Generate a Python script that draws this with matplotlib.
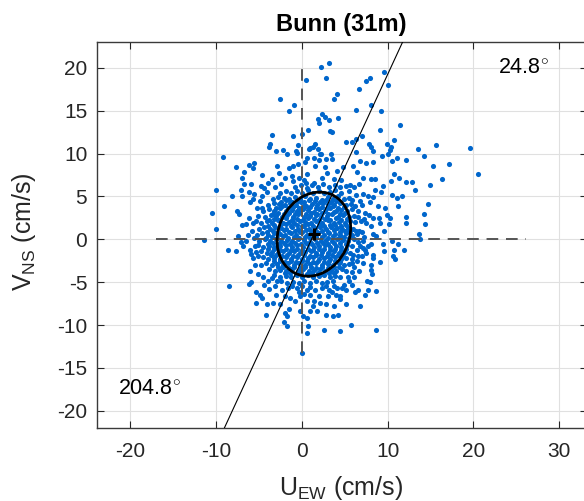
import numpy as np
import matplotlib
matplotlib.use("Agg")
import matplotlib.pyplot as plt
from matplotlib.patches import Ellipse

plt.rcParams['font.family'] = ['Liberation Sans', 'DejaVu Sans']
plt.rcParams['mathtext.fontset'] = 'custom'
plt.rcParams['mathtext.rm'] = 'Liberation Sans'
plt.rcParams['mathtext.it'] = 'Liberation Sans:italic'
plt.rcParams['axes.unicode_minus'] = False

TITLE = 'Bunn (31m)'
XLABEL = r'U$_{\mathrm{EW}}$ (cm/s)'
YLABEL = r'V$_{\mathrm{NS}}$ (cm/s)'

# velocity samples (u east-west, v north-south), cm/s
pts_upper = [
    (3.18, 20.5), (2.24, 20.1), (2.82, 18.8), (0.47, 18.6), (4.04, 16.9), (3.69, 16.4),
    (-2.59, 16.3), (-0.94, 15.7), (-1.45, 14.9), (2.39, 14.6), (2.71, 14.3), (1.88, 14.0),
    (3.18, 13.9), (4.27, 14.1), (2.04, 13.5), (0.67, 12.7), (3.25, 12.6), (3.53, 12.5),
    (-0.04, 12.3), (-0.98, 12.0), (-3.49, 12.1), (-3.69, 11.1), (-3.84, 10.8),
    (-0.51, 11.0), (-2.16, 10.4), (-2.98, 10.3), (-1.69, 9.9), (-0.67, 10.3), (-0.59, 10.1),
    (0.98, 10.7), (1.29, 10.8), (1.57, 11.1), (1.84, 10.5), (2.08, 10.0), (2.24, 9.9),
    (3.41, 10.0), (2.86, 9.4), (-9.22, 9.6), (0.59, 9.5), (1.45, 9.5), (0.82, 10.5),
    (9.53, 19.5), (10.0, 18.0), (7.94, 18.8), (7.47, 18.5), (6.65, 17.5), (8.02, 15.6),
    (6.26, 15.1), (9.26, 14.9), (11.48, 13.3), (9.1, 12.7), (6.96, 12.0), (6.26, 11.7),
    (5.14, 11.4), (5.8, 11.3), (10.7, 11.6), (7.82, 11.1), (8.02, 10.8), (9.92, 11.1),
    (10.35, 10.8), (10.31, 10.4), (8.25, 10.3), (6.26, 10.2), (13.6, 10.5), (15.7, 11.0),
    (19.57, 10.6), (10.0, 9.9), (9.3, 9.7), (11.1, 9.5), (14.2, 9.7), (12.2, 9.3),
]

pts_mid = [
    (-7.73, 8.4), (-6.7, 7.9), (-6.16, 8.7), (-5.6, 8.9), (-5.7, 8.3), (-4.7, 7.5),
    (-6.98, 7.1), (-6.8, 6.5), (-5.9, 6.5), (-4.8, 6.25), (-2.9, 8.5), (-2.67, 7.7),
    (-1.5, 8.3), (-0.98, 8.6), (-0.4, 8.8), (-10.0, 5.7), (-8.15, 5.0), (-7.06, 5.7),
    (-6.94, 5.1), (-6.2, 5.5), (-5.57, 5.3), (-5.69, 4.65), (-6.08, 4.3), (-9.14, 3.9),
    (-7.57, 3.3), (-7.37, 2.9), (-10.5, 3.1), (-10.04, 1.2), (-7.0, 1.7), (-6.5, 1.75),
    (-5.7, 1.95), (-7.5, 0.4), (-7.06, -0.27), (-6.86, -0.78), (-11.4, -0.08), (-8.6, -1.2),
    (-7.65, -1.4), (-6.1, -1.2), (-4.1, 5.5), (-4.6, 3.7), (-5.1, 2.7),
    (-3.5, 7.0), (-2.0, 7.1), (-1.2, 7.4), (-0.3, 7.2), (-3.9, 6.6), (-2.4, 6.5),
    (-1.0, 6.8), (0.2, 6.9), (-4.4, 6.0), (-3.1, 6.1),
    (0.4, 9.0), (0.6, 7.6), (1.57, 8.5), (1.96, 9.2), (2.75, 8.4), (2.94, 7.7), (3.5, 9.4),
    (4.1, 8.0), (4.8, 8.4), (0.5, 6.6), (1.37, 6.6), (3.7, 7.0), (2.3, 7.1), (4.6, 6.9),
    (10.5, 9.1), (15.3, 8.5), (17.2, 8.8), (20.5, 7.6), (16.3, 7.0), (12.1, 6.7), (12.8, 6.7),
    (13.2, 5.8), (14.9, 6.3), (11.3, 7.2), (10.7, 7.6), (10.35, 6.75), (10.5, 5.15),
    (11.05, 4.8), (11.7, 5.0), (11.25, 3.9), (14.7, 4.06), (14.3, 3.0), (12.1, 2.65),
    (12.1, 1.95), (14.4, 1.8), (10.3, 2.5), (10.2, 1.75), (9.6, 1.0), (13.7, 0.6),
    (13.8, 0.0), (10.5, -0.2), (11.25, -0.6), (10.8, -1.2), (11.9, -1.2), (9.6, -1.4),
    (10.66, -2.0), (8.3, 9.0), (7.5, 8.9), (6.8, 9.1), (6.0, 8.5), (6.4, 7.8), (7.1, 7.2),
    (8.1, 7.0), (8.5, 7.0), (9.5, 6.2), (8.55, 5.8), (9.2, 5.55), (8.3, 4.9), (7.7, 5.1),
    (7.1, 5.3), (6.1, 6.05), (5.6, 6.3), (5.1, 6.2), (6.7, 6.4), (8.9, 3.9), (9.7, 3.6),
    (9.9, 2.8), (9.0, 2.5), (9.1, 1.95), (8.3, 2.5), (8.1, 1.6), (7.5, 1.95), (8.3, 0.6),
    (8.6, 0.4), (8.1, -0.6), (7.7, -0.8), (7.35, -1.2), (8.3, -1.8), (7.5, -1.6),
    (6.8, -0.8), (9.5, -0.6), (6.0, -1.8), (6.8, 4.5), (6.2, 3.9), (6.6, 3.3), (7.4, 3.1),
    (6.9, 2.15), (6.7, 1.0), (7.0, 4.0), (7.9, 4.4), (7.3, 0.3), (7.1, -0.2), (7.8, 2.8),
    (5.5, 5.6), (6.3, 5.2), (5.8, 4.6), (6.5, 2.6), (7.2, 2.4), (6.3, 1.0), (7.0, 0.9),
    (6.5, -0.3), (6.4, -1.3), (7.1, -1.0), (-5.6, 0.2), (-5.8, 1.0), (-5.5, -0.8),
    (-5.4, -1.5), (-5.2, 3.6), (-4.9, 4.5), (-5.3, 2.1), (-4.6, 5.1), (-6.2, 2.5),
    (-6.3, 0.5), (-6.5, -0.2), (-5.9, -1.7),
]

pts_lower = [
    (-6.08, -3.7), (-6.2, -5.25), (-5.95, -4.95), (-8.55, -5.5), (-5.37, -6.15), (-4.9, -6.5),
    (-4.7, -6.85), (-5.4, -7.4), (-4.1, -7.6), (-3.4, -7.4), (-2.55, -7.5), (-3.0, -6.5),
    (-2.35, -5.9), (-4.2, -8.85), (-1.45, -8.1), (-1.96, -8.6), (-1.76, -9.0), (-2.08, -9.65),
    (-1.69, -10.15), (-0.2, -8.4), (0.08, -9.0), (0.6, -9.15), (0.7, -10.1), (0.63, -10.9),
    (0.04, -13.3), (1.0, -8.4), (1.3, -7.8), (1.76, -8.4), (2.78, -8.85), (2.62, -10.55),
    (3.65, -9.0), (4.2, -8.8), (4.43, -10.7), (3.7, -7.8), (2.86, -7.6), (2.16, -7.4),
    (1.37, -7.2), (0.6, -7.2), (-0.8, -7.2), (-1.37, -6.85), (-1.96, -6.65), (-0.2, -6.65),
    (1.0, -6.5), (2.0, -6.65), (3.0, -6.65), (4.0, -6.5), (4.5, -7.0), (4.7, -5.7),
    (4.04, -5.7), (3.14, -5.9), (2.35, -5.7), (1.57, -5.9), (0.6, -5.9), (-0.6, -5.7),
    (-1.57, -5.7), (-3.1, -5.5), (-3.9, -4.9), (-4.5, -4.35), (-5.1, -4.0), (-5.5, -3.0),
    (-3.5, -4.5), (-5.7, -2.2), (-5.1, -2.0),
    (10.9, -2.35), (9.1, -2.6), (8.3, -2.15), (8.1, -3.0), (8.05, -3.6), (8.2, -4.0),
    (7.1, -2.8), (6.7, -3.65), (6.1, -3.2), (5.8, -3.8), (5.4, -4.35), (7.6, -4.85),
    (7.9, -5.0), (8.6, -6.0), (7.74, -5.9), (7.4, -6.5), (6.6, -5.95), (6.2, -6.1),
    (5.9, -5.3), (5.2, -5.9), (5.2, -7.5), (6.77, -7.8), (4.44, -6.65), (5.7, -10.0),
    (8.6, -10.6), (6.4, -2.5), (7.0, -1.9),
    (5.9, -2.8), (6.6, -2.0), (5.5, -4.9), (4.9, -5.3), (6.1, -4.4), (-4.8, -3.0),
    (-4.4, -5.3), (-3.8, -5.8), (-2.9, -4.9), (-1.1, -5.5), (0.0, -5.5), (1.0, -5.6),
    (2.8, -5.4), (3.7, -5.4), (-0.3, -6.1), (0.3, -6.4), (3.5, -6.2),
]

pts_core = [
    (-0.8, 6.1), (-0.1, 6.35), (0.6, 6.0), (1.2, 6.3), (1.9, 6.15), (2.5, 6.4), (3.2, 6.05),
    (3.9, 6.3), (4.4, 6.1),
    (-2.6, 5.4), (-1.9, 5.6), (-1.3, 5.35), (-0.6, 5.65), (0.0, 5.45), (0.7, 5.7), (1.3, 5.4),
    (2.0, 5.6), (2.6, 5.35), (3.3, 5.55), (3.9, 5.7), (4.6, 5.4),
    (-3.4, 4.7), (-2.8, 4.95), (-2.1, 4.8), (-1.5, 4.65), (-0.8, 4.9), (-0.2, 4.75), (0.4, 5.0),
    (1.0, 4.7), (1.7, 4.85), (2.3, 4.6), (3.0, 4.9), (3.6, 4.75), (4.2, 5.0), (4.9, 4.7),
    (5.5, 4.85),
    (-4.0, 4.0), (-3.3, 4.25), (-2.7, 4.1), (-2.0, 3.95), (-1.4, 4.2), (-0.7, 4.05), (-0.1, 4.3),
    (0.5, 3.9), (1.2, 4.15), (1.8, 4.0), (2.5, 4.25), (3.1, 4.1), (3.8, 3.95), (4.4, 4.2),
    (5.1, 4.05), (5.7, 4.15),
    (-4.5, 3.3), (-3.8, 3.5), (-3.2, 3.35), (-2.5, 3.6), (-1.9, 3.25), (-1.2, 3.45), (-0.6, 3.3),
    (0.1, 3.55), (0.7, 3.4), (1.4, 3.2), (2.0, 3.5), (2.7, 3.35), (3.3, 3.6), (4.0, 3.3),
    (4.6, 3.45), (5.3, 3.25), (5.9, 3.5),
    (-4.3, 2.6), (-3.6, 2.85), (-3.0, 2.7), (-2.3, 2.55), (-1.7, 2.8), (-1.0, 2.65), (-0.4, 2.9),
    (0.3, 2.6), (0.9, 2.75), (1.6, 2.85), (2.2, 2.55), (2.9, 2.7), (3.5, 2.9), (4.2, 2.6),
    (4.8, 2.8), (5.5, 2.65), (6.1, 2.75),
    (-4.8, 1.9), (-4.1, 2.1), (-3.5, 1.95), (-2.8, 2.2), (-2.2, 1.85), (-1.5, 2.05), (-0.9, 1.9),
    (-0.2, 2.15), (0.4, 2.0), (1.1, 1.85), (1.7, 2.1), (2.4, 1.95), (3.0, 2.2), (3.7, 1.9),
    (4.3, 2.05), (5.0, 1.85), (5.6, 2.1), (6.2, 2.0),
    (-5.0, 1.2), (-4.4, 1.4), (-3.7, 1.25), (-3.1, 1.45), (-2.4, 1.3), (-1.8, 1.15), (-1.1, 1.4),
    (-0.5, 1.25), (0.2, 1.5), (0.8, 1.2), (1.5, 1.35), (2.1, 1.45), (2.8, 1.2), (3.4, 1.4),
    (4.1, 1.3), (4.7, 1.15), (5.4, 1.35), (6.0, 1.25),
    (-5.2, 0.5), (-4.6, 0.7), (-3.9, 0.55), (-3.3, 0.75), (-2.6, 0.6), (-2.0, 0.45), (-1.3, 0.7),
    (-0.7, 0.55), (0.0, 0.8), (0.6, 0.5), (1.3, 0.65), (1.9, 0.75), (2.6, 0.5), (3.2, 0.7),
    (3.9, 0.6), (4.5, 0.45), (5.2, 0.7), (5.8, 0.55), (6.4, 0.65),
    (-5.0, -0.2), (-4.3, 0.0), (-3.7, -0.15), (-3.0, 0.05), (-2.4, -0.25), (-1.7, -0.05),
    (-1.1, -0.2), (-0.4, 0.0), (0.2, -0.1), (0.9, -0.3), (1.5, 0.05), (2.2, -0.15), (2.8, -0.05),
    (3.5, -0.25), (4.1, 0.0), (4.8, -0.1), (5.4, -0.2), (6.1, 0.05),
    (-5.1, -0.7), (-4.5, -0.9), (-3.8, -0.75), (-3.2, -0.95), (-2.5, -0.8), (-1.9, -0.65),
    (-1.2, -0.9), (-0.6, -0.7), (0.1, -0.85), (0.7, -0.6), (1.4, -0.95), (2.0, -0.8),
    (2.7, -0.7), (3.3, -0.9), (4.0, -0.75), (4.6, -0.85), (5.3, -0.65), (5.9, -0.8),
    (-4.8, -1.4), (-4.1, -1.6), (-3.5, -1.45), (-2.8, -1.65), (-2.2, -1.35), (-1.5, -1.55),
    (-0.9, -1.4), (-0.2, -1.6), (0.4, -1.5), (1.1, -1.35), (1.7, -1.65), (2.4, -1.45),
    (3.0, -1.6), (3.7, -1.4), (4.3, -1.55), (5.0, -1.45), (5.6, -1.6),
    (-4.5, -2.1), (-3.9, -2.3), (-3.2, -2.15), (-2.6, -2.35), (-1.9, -2.05), (-1.3, -2.25),
    (-0.6, -2.1), (0.0, -2.3), (0.7, -2.2), (1.3, -2.05), (2.0, -2.35), (2.6, -2.15),
    (3.3, -2.3), (3.9, -2.1), (4.6, -2.25), (5.2, -2.15), (5.8, -2.3),
    (-4.2, -2.8), (-3.5, -3.0), (-2.9, -2.85), (-2.2, -3.05), (-1.6, -2.75), (-0.9, -2.95),
    (-0.3, -2.8), (0.4, -3.0), (1.0, -2.9), (1.7, -2.75), (2.3, -3.05), (3.0, -2.85),
    (3.6, -3.0), (4.3, -2.8), (4.9, -2.95), (5.5, -2.85),
    (-3.8, -3.5), (-3.1, -3.7), (-2.5, -3.55), (-1.8, -3.75), (-1.2, -3.45), (-0.5, -3.65),
    (0.1, -3.5), (0.8, -3.7), (1.4, -3.6), (2.1, -3.45), (2.7, -3.75), (3.4, -3.55),
    (4.0, -3.7), (4.7, -3.5), (5.1, -3.65),
    (-3.2, -4.2), (-2.6, -4.4), (-1.9, -4.25), (-1.3, -4.45), (-0.6, -4.15), (0.0, -4.35),
    (0.7, -4.2), (1.3, -4.4), (2.0, -4.3), (2.6, -4.15), (3.3, -4.45), (3.9, -4.25), (4.5, -4.35),
    (-2.4, -4.9), (-1.7, -5.1), (-1.0, -4.95), (-0.3, -5.15), (0.3, -4.85), (1.0, -5.05),
    (1.6, -4.9), (2.3, -5.1), (2.9, -5.0), (3.6, -4.85),
]

# second, offset layer of the densest part of the cloud
pts_core_inner = [
    (-2.4, 4.4), (-1.8, 4.55), (-1.1, 4.35), (-0.5, 4.5), (0.2, 4.4), (0.8, 4.6), (1.5, 4.45),
    (2.1, 4.35), (2.8, 4.55), (3.4, 4.4), (4.0, 4.5),
    (-3.0, 3.7), (-2.3, 3.85), (-1.6, 3.7), (-1.0, 3.8), (-0.3, 3.65), (0.3, 3.85), (1.0, 3.75),
    (1.6, 3.65), (2.3, 3.8), (2.9, 3.7), (3.6, 3.85), (4.2, 3.7), (4.9, 3.8),
    (-3.4, 3.0), (-2.8, 3.1), (-2.1, 2.95), (-1.5, 3.1), (-0.8, 3.0), (-0.2, 3.15), (0.5, 3.0),
    (1.1, 3.1), (1.8, 2.95), (2.4, 3.1), (3.1, 3.0), (3.7, 3.15), (4.4, 2.95), (5.0, 3.05),
    (-3.8, 2.3), (-3.2, 2.4), (-2.5, 2.3), (-1.9, 2.45), (-1.2, 2.3), (-0.6, 2.4), (0.1, 2.3),
    (0.7, 2.45), (1.4, 2.35), (2.0, 2.25), (2.7, 2.4), (3.3, 2.3), (4.0, 2.45), (4.6, 2.3),
    (5.3, 2.4),
    (-3.9, 1.6), (-3.2, 1.7), (-2.6, 1.6), (-1.9, 1.75), (-1.3, 1.6), (-0.6, 1.7), (0.0, 1.6),
    (0.7, 1.75), (1.3, 1.6), (2.0, 1.7), (2.6, 1.55), (3.3, 1.7), (3.9, 1.65), (4.6, 1.6),
    (5.2, 1.7),
    (-4.1, 0.9), (-3.4, 1.0), (-2.8, 0.9), (-2.1, 1.05), (-1.5, 0.9), (-0.8, 1.0), (-0.2, 0.9),
    (0.5, 1.05), (1.1, 0.95), (1.8, 0.9), (2.4, 1.0), (3.1, 0.9), (3.7, 1.05), (4.4, 0.9),
    (5.0, 1.0), (5.6, 0.95),
    (-4.2, 0.2), (-3.5, 0.3), (-2.9, 0.2), (-2.2, 0.35), (-1.6, 0.2), (-0.9, 0.3), (-0.3, 0.2),
    (0.4, 0.3), (1.0, 0.15), (1.7, 0.3), (2.3, 0.25), (3.0, 0.2), (3.6, 0.35), (4.3, 0.2),
    (4.9, 0.3), (5.5, 0.2),
    (-4.0, -0.5), (-3.4, -0.4), (-2.7, -0.5), (-2.1, -0.4), (-1.4, -0.55), (-0.8, -0.4),
    (-0.1, -0.5), (0.5, -0.4), (1.2, -0.5), (1.8, -0.45), (2.5, -0.4), (3.1, -0.55),
    (3.8, -0.45), (4.4, -0.4), (5.1, -0.5),
    (-3.9, -1.15), (-3.2, -1.1), (-2.6, -1.2), (-1.9, -1.1), (-1.3, -1.2), (-0.6, -1.1),
    (0.0, -1.2), (0.7, -1.1), (1.3, -1.2), (2.0, -1.15), (2.6, -1.1), (3.3, -1.2), (3.9, -1.1),
    (4.6, -1.2), (5.2, -1.1),
    (-3.6, -1.85), (-3.0, -1.8), (-2.3, -1.9), (-1.7, -1.8), (-1.0, -1.9), (-0.4, -1.85),
    (0.3, -1.8), (0.9, -1.9), (1.6, -1.85), (2.2, -1.8), (2.9, -1.9), (3.5, -1.85), (4.2, -1.8),
    (4.8, -1.9),
    (-3.3, -2.55), (-2.6, -2.5), (-2.0, -2.6), (-1.3, -2.5), (-0.7, -2.6), (0.0, -2.55),
    (0.6, -2.5), (1.3, -2.6), (1.9, -2.5), (2.6, -2.6), (3.2, -2.55), (3.9, -2.5), (4.5, -2.6),
    (-2.8, -3.25), (-2.2, -3.2), (-1.5, -3.3), (-0.9, -3.2), (-0.2, -3.3), (0.4, -3.25),
    (1.1, -3.2), (1.7, -3.3), (2.4, -3.2), (3.0, -3.3), (3.7, -3.25), (4.3, -3.2),
    (-2.0, -3.95), (-1.4, -3.9), (-0.7, -4.0), (-0.1, -3.9), (0.6, -4.0), (1.2, -3.95),
    (1.9, -3.9), (2.5, -4.0), (3.2, -3.9), (3.8, -3.95),
]

# principal axis / variance ellipse and mean
mean_u, mean_v = 1.4, 0.6
major_dir = 24.8          # degrees clockwise from north
semi_major, semi_minor = 5.05, 4.12
dash_u = (-17.0, 26.2)
dash_v = (-13.3, 20.4)

all_pts = np.array(pts_upper + pts_mid + pts_lower + pts_core + pts_core_inner)
u, v = all_pts[:, 0], all_pts[:, 1]

fig = plt.figure(figsize=(5.84, 5.01), dpi=100)
ax = fig.add_axes([97 / 584, 73 / 501, 489.5 / 584, 386 / 501])
ax.set_xlim(-23.9, 33.2)
ax.set_ylim(-22, 23)

ax.grid(True, color='#e0e0e0', lw=0.8, zorder=0)
ax.set_axisbelow(True)

ax.plot(u, v, 'o', color='#0066cc', ms=3.7, mew=0, zorder=2)

ax.plot(dash_u, [0, 0], '--', color='#555555', lw=1.4, dashes=(6, 4), zorder=3)
ax.plot([0, 0], dash_v, '--', color='#555555', lw=1.4, dashes=(6, 4), zorder=3)

th = np.deg2rad(major_dir)
L = 60
ax.plot([mean_u - L * np.sin(th), mean_u + L * np.sin(th)],
        [mean_v - L * np.cos(th), mean_v + L * np.cos(th)], color='black', lw=0.8, zorder=4)

ax.add_patch(Ellipse((mean_u, mean_v), 2 * semi_major, 2 * semi_minor, angle=90 - major_dir,
                     fill=False, ec='black', lw=2, zorder=5))
ax.plot(mean_u, mean_v, '+', color='black', ms=9, mew=2.2, zorder=6)

ax.text(22.9, 19.9, f'{major_dir:.1f}' + r'$^{\circ}$', fontsize=15.5, va='center', ha='left')
ax.text(-21.5, -17.5, f'{major_dir + 180:.1f}' + r'$^{\circ}$', fontsize=15.5, va='center', ha='left')

ax.set_xticks([-20, -10, 0, 10, 20, 30])
ax.set_yticks([-20, -15, -10, -5, 0, 5, 10, 15, 20])
ax.tick_params(direction='in', length=5, width=0.8, top=True, right=True,
               labelsize=15, colors='#262626', color='#262626')
ax.tick_params(axis='x', pad=10)
ax.tick_params(axis='y', pad=7)
for s in ax.spines.values():
    s.set_color('#3a3a3a')
    s.set_linewidth(1.0)

fig.text(341 / 584, 1 - 31 / 501, TITLE, ha='center', va='baseline', fontsize=17, fontweight='bold')
fig.text(341 / 584, 1 - 495 / 501, XLABEL, ha='center', va='baseline', fontsize=18, color='#262626')
fig.text(24 / 584, 1 - 232 / 501, YLABEL, ha='center', va='center', rotation=90, fontsize=18,
         color='#262626')

fig.savefig('out.png', dpi=100)
